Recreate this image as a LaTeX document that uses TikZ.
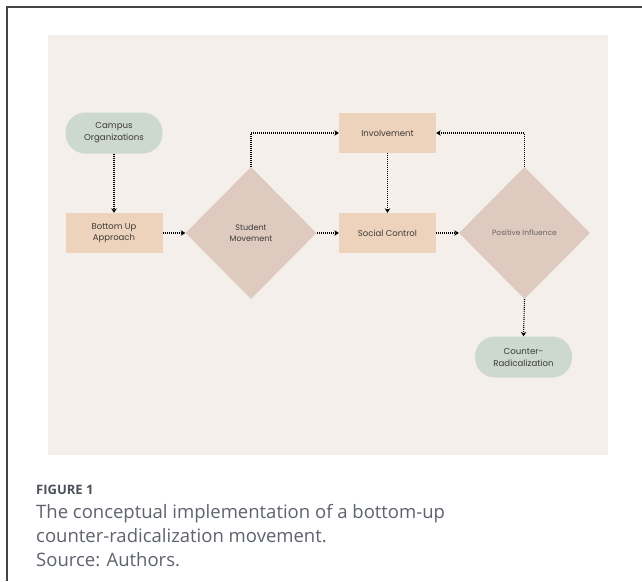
\documentclass[tikz,border=0pt]{standalone}
\usepackage{fontspec}
\setmainfont{Poppins}
\newfontfamily\capfont{Open Sans}
\usetikzlibrary{shapes.geometric,arrows.meta}
\definecolor{panelbg}{HTML}{F4EFEA}
\definecolor{rectfill}{HTML}{EED3BC}
\definecolor{diafill}{HTML}{DFCAC0}
\definecolor{pillfill}{HTML}{CDD8CE}
\definecolor{nodetext}{HTML}{3C3A38}
\definecolor{softtext}{HTML}{6A6260}
\definecolor{captext}{HTML}{5E636D}
\definecolor{capbold}{HTML}{4C515B}
\definecolor{framecol}{HTML}{444444}
\tikzset{
  box/.style={rectangle, fill=rectfill, minimum width=97pt, minimum height=40pt, inner sep=0pt, align=center, font=\fontsize{8.5}{11}\selectfont, text=nodetext},
  pill/.style={rectangle, rounded corners=20pt, fill=pillfill, minimum width=97pt, minimum height=41pt, inner sep=0pt, align=center, font=\fontsize{8.6}{12}\selectfont, text=nodetext},
  dia/.style={diamond, fill=diafill, minimum width=131pt, minimum height=132pt, inner sep=0pt, align=center, font=\fontsize{8}{11}\selectfont, text=nodetext},
  flow/.style={line width=1.1pt, dash pattern=on 1pt off 1pt, -{Stealth[length=4.5pt,width=5.5pt,inset=1.5pt]}, black},
  capline/.style={anchor=base west, inner sep=0pt, font=\capfont\fontsize{18.5}{22}\selectfont, text=captext}
}
\begin{document}
\begin{tikzpicture}[x=1pt,y=-1pt]
\useasboundingbox (0,0) rectangle (642,581);
\fill[white] (0,0) rectangle (642,581);
\draw[framecol, line width=1.4pt] (7,581) -- (7,7) -- (642,7);
\fill[panelbg] (48,35) rectangle (608,455);

\node[pill] (campus) at (114,133) {Campus\\Organizations};
\node[box] (bua) at (114,233) {Bottom Up\\Approach};
\node[dia] (sm) at (251,233) {Student\\Movement};
\node[box] (inv) at (387.5,133) {Involvement};
\node[box] (sc) at (387.5,233) {Social Control};
\node[dia, text=softtext, font=\fontsize{7.5}{10}\selectfont] (pi) at (524.5,233) {Positive Influence};
\node[pill] (cr) at (523.5,357) {Counter-\\Radicalization};

\draw[flow] (campus.south) -- (bua.north);
\draw[flow] (bua.east) -- (sm.west);
\draw[flow] (sm.north) |- (inv.west);
\draw[flow] (sm.east) -- (sc.west);
\draw[flow] (inv.south) -- (sc.north);
\draw[flow] (sc.east) -- (pi.west);
\draw[flow] (pi.north) |- (inv.east);
\draw[flow] (pi.south) -- (cr.north);

\node[anchor=base west, inner sep=0pt, font=\capfont\bfseries\fontsize{13}{15}\selectfont, text=capbold] (figlabel) at (36,494) {FIGURE 1};
\node[capline] (cap1) at (36,518) {The conceptual implementation of a bottom-up};
\node[capline] (cap2) at (36,542) {counter-radicalization movement.};
\node[capline] (cap3) at (36,566) {Source: Authors.};
\end{tikzpicture}
\end{document}
